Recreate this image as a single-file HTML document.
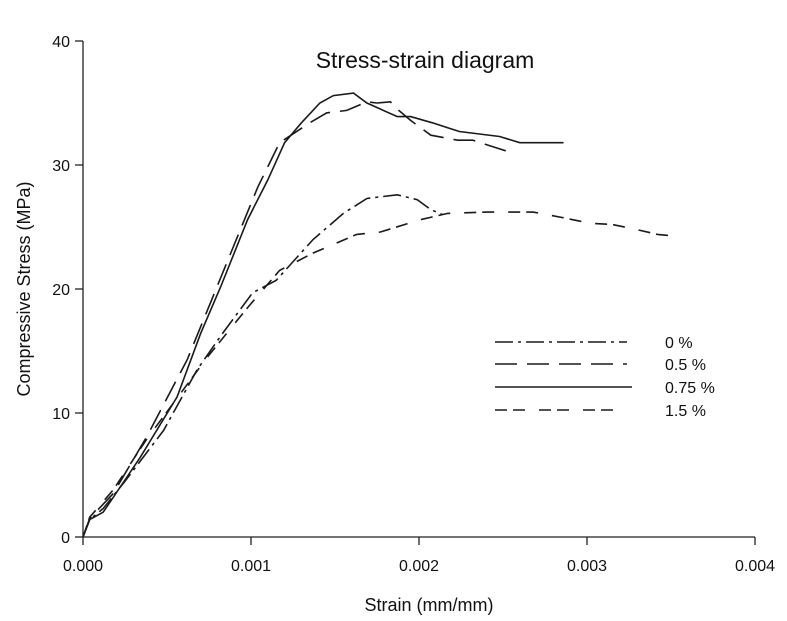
<!DOCTYPE html>
<html><head><meta charset="utf-8"><style>
body{margin:0;background:#fff;}
svg{display:block;font-family:"Liberation Sans",Arial,sans-serif;}
</style></head><body>
<svg id="chart" width="787" height="621" viewBox="0 0 787 621" xmlns="http://www.w3.org/2000/svg">
<g id="axes"></g><g id="series"></g><g id="legend"></g>
<text x="425" y="68" font-size="23" text-anchor="middle" fill="#111">Stress-strain diagram</text>
<text x="429" y="611" font-size="18" text-anchor="middle" fill="#111">Strain (mm/mm)</text>
<text transform="translate(30,289) rotate(-90)" font-size="18" text-anchor="middle" fill="#111">Compressive Stress (MPa)</text>
</svg>
<script>
const xTicks=[0,0.001,0.002,0.003,0.004];
const xTickLabels=["0.000","0.001","0.002","0.003","0.004"];
const yTicks=[0,10,20,30,40];
const yTickLabels=["0","10","20","30","40"];
const seriesNames=["0 %","0.5 %","0.75 %","1.5 %"];
const s0x=[0,0.00004,0.00012,0.00025,0.00048,0.00068,0.00083,0.00101,0.00115,0.00137,0.00155,0.00169,0.00187,0.00199,0.00207,0.00214];
const s0y=[0,1.4,2.3,4.5,8.6,13.5,16.4,19.7,20.7,24.0,26.1,27.3,27.6,27.2,26.4,26.0];
const s05x=[0,0.00004,0.00018,0.00038,0.00062,0.00088,0.00104,0.00117,0.00135,0.00145,0.00157,0.00169,0.00175,0.00183,0.00188,0.00195,0.00207,0.00223,0.00232,0.00248,0.00255];
const s05y=[0,1.5,3.5,8.1,14.3,22.9,28.2,31.8,33.4,34.2,34.4,35.1,35.0,35.1,34.4,33.6,32.4,32.0,32.0,31.3,31.0];
const s075x=[0,0.00004,0.00012,0.00034,0.00056,0.0007,0.00082,0.00098,0.0011,0.0012,0.0013,0.00141,0.00149,0.00161,0.00169,0.00187,0.00195,0.00208,0.00224,0.00248,0.0026,0.00286];
const s075y=[0,1.4,2.0,6.4,11.3,16.4,20.2,25.6,28.8,31.8,33.4,35.0,35.6,35.8,35.0,33.9,33.9,33.4,32.7,32.3,31.8,31.8];
const s15x=[0,0.00004,0.00018,0.00038,0.00056,0.00074,0.00098,0.00117,0.00137,0.00163,0.00177,0.00201,0.00217,0.0024,0.00268,0.00284,0.00302,0.00315,0.00326,0.00342,0.0035];
const s15y=[0,1.6,3.8,7.9,11.2,14.5,18.5,21.5,22.9,24.4,24.6,25.6,26.1,26.2,26.2,25.8,25.3,25.2,24.9,24.4,24.3];
const NS="http://www.w3.org/2000/svg";
const X=v=>83+v/0.004*672;
const Y=v=>537-v/40*496;
function mk(t,a,p){const e=document.createElementNS(NS,t);for(const k in a)e.setAttribute(k,a[k]);p.appendChild(e);return e;}
const axes=document.getElementById('axes');
let ax=mk('line',{x1:83,y1:41,x2:83,y2:537,stroke:'#222','stroke-width':1.3},axes);


ax=mk('line',{x1:83,y1:537,x2:755,y2:537,stroke:'#222','stroke-width':1.3},axes);


xTicks.forEach((t,i)=>{const l=mk('line',{x1:X(t),y1:537,x2:X(t),y2:545,stroke:'#222','stroke-width':1.3},axes);


const tx=mk('text',{x:X(t),y:571,'font-size':16,'text-anchor':'middle',fill:'#111'},axes);tx.textContent=xTickLabels[i];

});
yTicks.forEach((t,i)=>{const l=mk('line',{x1:75,y1:Y(t),x2:83,y2:Y(t),stroke:'#222','stroke-width':1.3},axes);


const tx=mk('text',{x:70,y:Y(t)+6,'font-size':16,'text-anchor':'end',fill:'#111'},axes);tx.textContent=yTickLabels[i];

});
const dashes=["18,5,3,5","22,10","none","12,6,12,14"];
const sx=[s0x,s05x,s075x,s15x],sy=[s0y,s05y,s075y,s15y];
const names=['series-0-percent','series-0-5-percent','series-0-75-percent','series-1-5-percent'];
const sg=document.getElementById('series');
for(let i=0;i<4;i++){const d=sx[i].map((v,j)=>(j?'L':'M')+X(v).toFixed(1)+','+Y(sy[i][j]).toFixed(1)).join('');
const p=mk('path',{d:d,fill:'none',stroke:'#1a1a1a','stroke-width':1.6,'stroke-dasharray':dashes[i]},sg);

}
const lg=document.getElementById('legend');
const ly=[342,364,387,410],lx2=[627,627,632,614];
for(let i=0;i<4;i++){const l=mk('line',{x1:495,y1:ly[i],x2:lx2[i],y2:ly[i],stroke:'#1a1a1a','stroke-width':1.6,'stroke-dasharray':dashes[i]},lg);


const t=mk('text',{x:665,y:ly[i]+6,'font-size':16,fill:'#111'},lg);t.textContent=seriesNames[i];

}
</script>
</body></html>
